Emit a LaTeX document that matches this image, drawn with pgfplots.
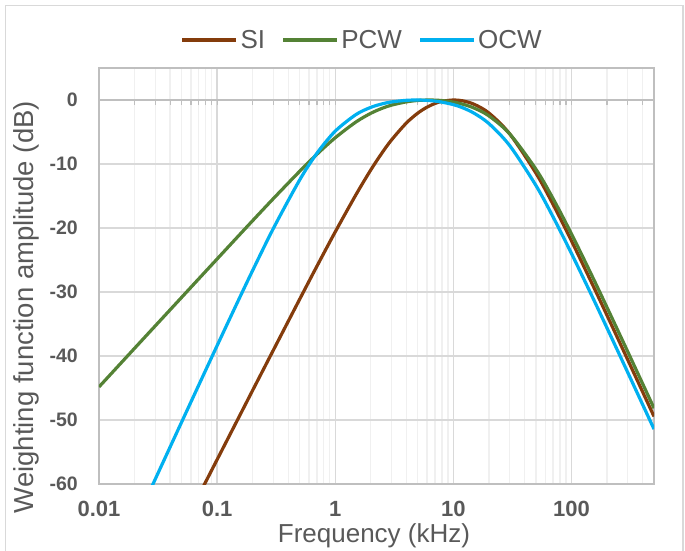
\documentclass[border=0pt]{standalone}
\usepackage{fontspec}
\setmainfont{Liberation Sans}
\usepackage{pgfplots}
\pgfplotsset{compat=1.18}
\definecolor{txt}{HTML}{595959}
\definecolor{siC}{HTML}{843C0C}
\definecolor{pcwC}{HTML}{548235}
\definecolor{ocwC}{HTML}{00B0F0}
\definecolor{gridmaj}{HTML}{D9D9D9}
\definecolor{gridmin}{HTML}{F0F0F0}
\definecolor{frameC}{HTML}{BFBFBF}
\begin{document}
\begin{tikzpicture}[x=1pt,y=1pt]
\path[use as bounding box] (0,0) rectangle (685,550);
\draw[gridmaj, line width=1.5pt] (5.5,-5) -- (5.5,544.5) -- (683,544.5) -- (683,-5);
\begin{axis}[
  at={(99pt,66pt)}, anchor=south west,
  scale only axis, width=555pt, height=416pt,
  xmode=log, xmin=0.01, xmax=500, ymin=-60, ymax=5,
  xtick={0.01,0.1,1,10,100}, xticklabels={0.01,0.1,1,10,100},
  minor xtick={0.02,0.03,0.04,0.05,0.06,0.07,0.08,0.09,0.2,0.3,0.4,0.5,0.6,0.7,0.8,0.9,2,3,4,5,6,7,8,9,20,30,40,50,60,70,80,90,200,300,400},
  ytick={-60,-50,-40,-30,-20,-10,0}, yticklabels={-60,-50,-40,-30,-20,-10,0},
  xmajorgrids, xminorgrids, ymajorgrids,
  major grid style={gridmaj, line width=1.3pt},
  minor grid style={gridmin, line width=1.3pt},
  axis line style={frameC, line width=1.6pt},
  major tick length=0pt, minor tick length=0pt,
  tick style={draw=none},
  xticklabel style={font=\fontsize{22}{22}\selectfont\bfseries, text=txt, anchor=center, inner sep=0pt, yshift=-25pt},
  yticklabel style={font=\fontsize{19.5}{19.5}\selectfont\bfseries, text=txt, anchor=east, inner sep=0pt, xshift=-21pt},
  xlabel={Frequency (kHz)},
  xlabel style={font=\fontsize{26}{26}\selectfont, text=txt, at={(axis description cs:0.5,0)}, anchor=base, yshift=-58pt, xshift=-2.5pt},
  ylabel={Weighting function amplitude (dB)},
  ylabel style={font=\fontsize{27.5}{27.5}\selectfont, text=txt, at={(axis description cs:-0.1189,0.425)}, anchor=base},
  legend columns=3,
  legend image code/.code={\draw[#1, line width=3.2pt] (0pt,0pt) -- (54pt,0pt);},
  legend style={at={(axis description cs:0.4748,1.0673)}, anchor=center, draw=none, fill=none,
    font=\fontsize{26}{26}\selectfont, text=txt, nodes={inner sep=2.5pt},
    /tikz/every even column/.append style={column sep=14pt}},
  every axis plot/.append style={line width=3.2pt, smooth},
]
\draw[frameC, line width=1.6pt] (axis cs:0.01,0) -- (axis cs:500,0);
\pgfplotsinvokeforeach{0.02,0.03,0.04,0.05,0.06,0.07,0.08,0.09,0.1,0.2,0.3,0.4,0.5,0.6,0.7,0.8,0.9,1,2,3,4,5,6,7,8,9,10,20,30,40,50,60,70,80,90,100,200,300,400}{
  \draw[frameC, line width=1.2pt] (axis cs:#1,0) -- ([yshift=-5pt]axis cs:#1,0);
}
\addplot[siC] coordinates {(0.075,-60.69)(0.1,-56.19)(0.15,-49.86)(0.2,-45.36)(0.3,-39.05)(0.5,-31.13)(0.7,-25.97)(1,-20.61)(1.5,-14.78)(2,-10.93)(2.5,-8.22)(3,-6.23)(4,-3.60)(5,-2.05)(6,-1.11)(7,-0.54)(8,-0.21)(10,0.00)(12,-0.13)(15,-0.67)(20,-2.03)(30,-5.29)(50,-11.42)(70,-16.34)(100,-22.00)(150,-28.75)(200,-33.64)(300,-40.61)(500,-49.44)};
\addlegendentry{SI}
\addplot[pcwC] coordinates {(0.01,-44.83)(0.02,-38.80)(0.03,-35.28)(0.05,-30.85)(0.07,-27.93)(0.1,-24.84)(0.15,-21.33)(0.2,-18.85)(0.3,-15.39)(0.5,-11.14)(0.7,-8.48)(1,-5.90)(1.5,-3.43)(2,-2.08)(2.5,-1.29)(3,-0.80)(4,-0.29)(5,-0.07)(6,-0.01)(7,-0.02)(8,-0.09)(10,-0.32)(12,-0.65)(15,-1.26)(20,-2.48)(30,-5.29)(50,-10.80)(70,-15.43)(100,-20.91)(150,-27.55)(200,-32.40)(300,-39.34)(500,-48.16)};
\addlegendentry{PCW}
\addplot[ocwC] coordinates {(0.028,-60.41)(0.03,-59.21)(0.04,-54.22)(0.05,-50.35)(0.07,-44.53)(0.1,-38.38)(0.15,-31.46)(0.2,-26.63)(0.3,-20.04)(0.5,-12.49)(0.7,-8.32)(1,-4.87)(1.5,-2.27)(2,-1.15)(2.5,-0.60)(3,-0.30)(4,-0.05)(5,0.00)(6,-0.06)(7,-0.17)(8,-0.33)(10,-0.72)(12,-1.21)(15,-2.07)(20,-3.68)(30,-7.12)(50,-13.34)(70,-18.29)(100,-23.97)(150,-30.72)(200,-35.62)(300,-42.59)(500,-51.42)};
\addlegendentry{OCW}
\end{axis}
\end{tikzpicture}
\end{document}
